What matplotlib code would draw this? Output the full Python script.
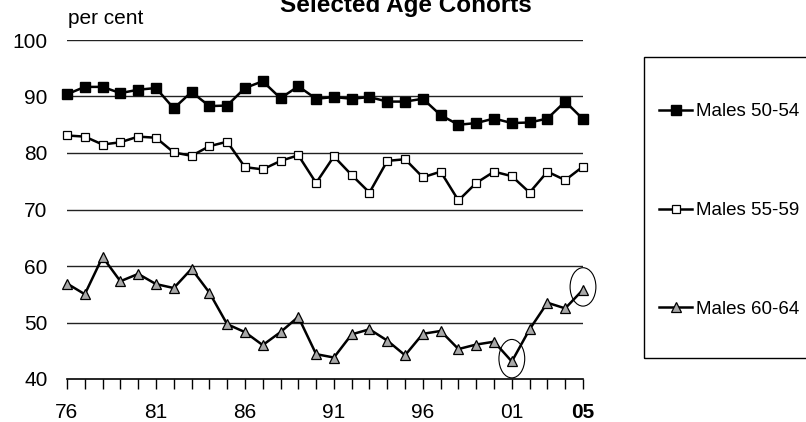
import matplotlib
matplotlib.use('Agg')
from matplotlib import pyplot as plt
from matplotlib.patches import Ellipse, Rectangle

plt.rcParams['font.family'] = ['Liberation Sans', 'DejaVu Sans']

years = list(range(1976, 2006))

males_50_54 = [90.4, 91.7, 91.7, 90.6, 91.2, 91.5, 87.9, 90.8, 88.3, 88.4,
               91.5, 92.7, 89.7, 91.8, 89.6, 89.9, 89.6, 89.9, 89.1, 89.1,
               89.6, 86.7, 85.0, 85.3, 86.1, 85.3, 85.4, 86.1, 89.1, 86.0]
males_55_59 = [83.1, 82.9, 81.5, 81.9, 82.9, 82.7, 80.1, 79.5, 81.2, 82.0,
               77.5, 77.1, 78.6, 79.6, 74.7, 79.4, 76.1, 73.0, 78.6, 78.9,
               75.7, 76.7, 71.6, 74.7, 76.7, 75.9, 73.0, 76.7, 75.2, 77.6]
males_60_64 = [56.9, 55.0, 61.6, 57.3, 58.6, 56.8, 56.1, 59.5, 55.3, 49.7,
               48.3, 46.0, 48.3, 51.0, 44.4, 43.8, 47.9, 48.8, 46.8, 44.2,
               48.0, 48.5, 45.3, 46.1, 46.6, 43.1, 48.8, 53.5, 52.5, 55.8]

labelled_years = [1976, 1981, 1986, 1991, 1996, 2001, 2005]
year_labels = ['76', '81', '86', '91', '96', '01', '05']
gridlines = [50, 60, 70, 80, 90, 100]
circled_years = [2001, 2005]

fig = plt.figure(figsize=(8.06, 4.22), dpi=100)
ax = fig.add_axes([67 / 806, 1 - 379 / 422, (583 - 67) / 806, 339 / 422])

for g in gridlines:
    ax.axhline(g, color='#222222', linewidth=1.0, zorder=1)

l1, = ax.plot(years, males_50_54, color='black', linewidth=1.8,
              marker='s', markersize=7, markerfacecolor='black',
              markeredgecolor='black', clip_on=False, zorder=3,
              label='Males 50-54')
l2, = ax.plot(years, males_55_59, color='black', linewidth=1.8,
              marker='s', markersize=6, markerfacecolor='white',
              markeredgecolor='black', markeredgewidth=0.9, clip_on=False,
              zorder=3, label='Males 55-59')
l3, = ax.plot(years, males_60_64, color='black', linewidth=1.8,
              marker='^', markersize=7, markerfacecolor='#a8a8a8',
              markeredgecolor='black', markeredgewidth=0.9, clip_on=False,
              zorder=3, label='Males 60-64')

# highlight the 2001 low and the latest value
for yr in circled_years:
    v = males_60_64[years.index(yr)]
    ax.add_patch(Ellipse((yr, v + 0.5), 1.45, 6.8, fill=False,
                         edgecolor='black', linewidth=0.8, zorder=4,
                         clip_on=False))

ax.set_xlim(1976, 2005)
ax.set_ylim(40, 100)
ax.set_xticks(years, minor=True)
ax.set_xticks(labelled_years)
ax.set_xticklabels(year_labels, fontsize=15)
ax.get_xticklabels()[-1].set_fontweight('bold')
ax.set_yticks([40] + gridlines)
ax.tick_params(axis='x', which='both', direction='out', length=7,
               width=1, color='black', pad=10)
ax.tick_params(axis='x', which='major', labelsize=15)
ax.tick_params(axis='y', length=0, pad=14, labelsize=15)
for side in ['top', 'right', 'left']:
    ax.spines[side].set_visible(False)
ax.spines['bottom'].set_linewidth(1.2)

fig.text(68 / 806, 1 - 19 / 422, 'per cent', fontsize=15, va='center')
fig.text(406 / 806, 1 - 12 / 422, 'Selected Age Cohorts', fontsize=17.5,
         fontweight='bold', ha='center', va='baseline')

fig.patches.append(Rectangle((644 / 806, 1 - 358 / 422), 170 / 806,
                             301 / 422, transform=fig.transFigure,
                             fill=False, edgecolor='black', linewidth=1.0))
fig.legend(handles=[l1, l2, l3], loc='upper left',
           bbox_to_anchor=(650 / 806, 1 - 94 / 422), frameon=False,
           fontsize=13.5, numpoints=1, handlelength=1.75, handletextpad=0.2,
           borderpad=0, labelspacing=4.35)

fig.savefig('out.png', dpi=100)
